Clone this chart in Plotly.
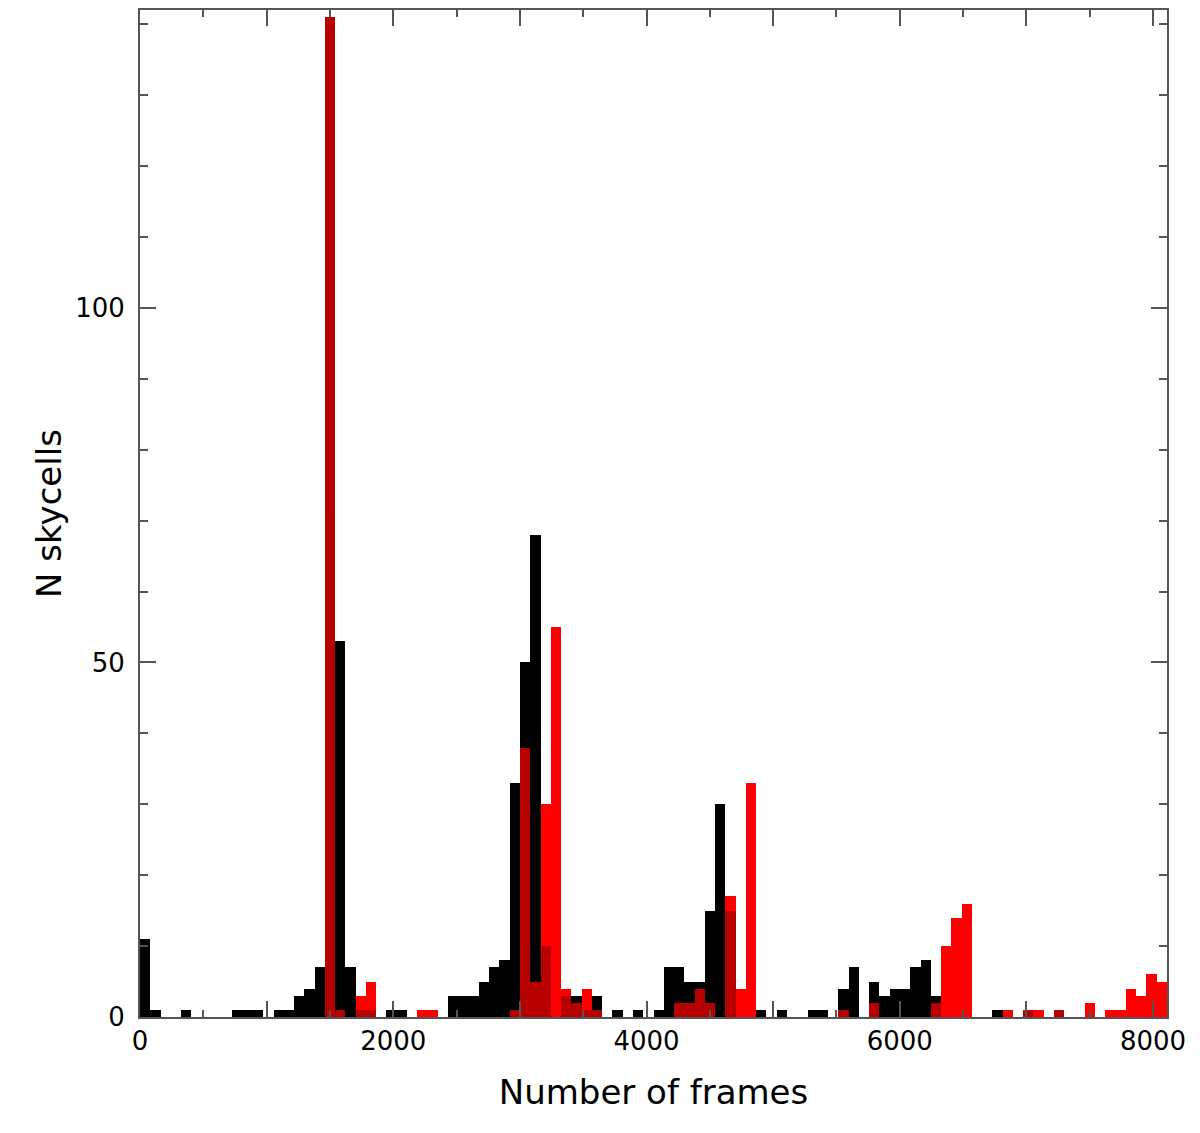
import plotly.graph_objects as go

# histogram counts per bin (100 bins of ~81.1 frames, starting at 0)
bin_width = 81.1
black_counts = [
    11, 1, 0, 0, 1, 0, 0, 0, 0, 1,
    1, 1, 0, 1, 1, 3, 4, 7, 141, 53,
    7, 1, 1, 0, 1, 1, 0, 0, 0, 0,
    3, 3, 3, 5, 7, 8, 33, 50, 68, 10,
    0, 3, 3, 1, 3, 0, 1, 0, 1, 0,
    1, 7, 7, 5, 5, 15, 30, 15, 0, 0,
    1, 0, 1, 0, 0, 1, 1, 0, 4, 7,
    0, 5, 3, 4, 4, 7, 8, 3, 0, 0,
    0, 0, 0, 1, 0, 0, 1, 0, 0, 1,
    0, 0, 0, 0, 0, 0, 0, 0, 0, 0,
]
red_counts = [
    0, 0, 0, 0, 0, 0, 0, 0, 0, 0,
    0, 0, 0, 0, 0, 0, 0, 0, 141, 1,
    0, 3, 5, 0, 0, 0, 0, 1, 1, 0,
    0, 0, 0, 0, 0, 0, 1, 38, 5, 30,
    55, 4, 2, 4, 1, 0, 0, 0, 0, 0,
    0, 0, 2, 2, 4, 2, 0, 17, 4, 33,
    0, 0, 0, 0, 0, 0, 0, 0, 1, 0,
    0, 2, 0, 0, 0, 0, 0, 2, 10, 14,
    16, 0, 0, 0, 1, 0, 1, 1, 0, 1,
    0, 0, 2, 0, 1, 1, 4, 3, 6, 5,
]
x_tick_values = list(range(0, 8001, 1000))
x_tick_labels = ['0', '', '2000', '', '4000', '', '6000', '', '8000']
y_tick_values = [0, 50, 100]

font_family = 'DejaVu Sans, sans-serif'
axis_color = '#555555'

bar_kw = dict(x0=bin_width / 2, dx=bin_width, width=bin_width, marker_line_width=0, hoverinfo='skip')

fig = go.Figure()
fig.add_trace(go.Bar(y=black_counts, marker_color='black', **bar_kw))
fig.add_trace(go.Bar(y=red_counts, marker_color='#ff0000', **bar_kw))
# faint black overlay so that overlapping parts show dark red
fig.add_trace(go.Bar(y=black_counts, marker_color='black', opacity=0.28, **bar_kw))

axis_common = dict(
    showgrid=False,
    zeroline=False,
    showline=True,
    linecolor=axis_color,
    linewidth=2,
    mirror='ticks',
    ticks='inside',
    tickcolor=axis_color,
    tickwidth=2,
    ticklen=16,
    tickfont=dict(family=font_family, size=26, color='black'),
)

# the page body adds an 8px offset, so the margins are trimmed to compensate
fig.update_layout(
    width=1184,
    height=1117,
    margin=dict(l=132, r=25, t=0, b=108),
    paper_bgcolor='white',
    plot_bgcolor='white',
    barmode='overlay',
    bargap=0,
    showlegend=False,
    xaxis=dict(
        range=[0, 8110],
        tickvals=x_tick_values,
        ticktext=x_tick_labels,
        minor=dict(dtick=500, tick0=0, ticks='inside', ticklen=7, tickcolor=axis_color, tickwidth=2),
        title=dict(text='Number of frames', font=dict(family=font_family, size=34, color='black'), standoff=25),
        **axis_common,
    ),
    yaxis=dict(
        range=[0, 142],
        tickvals=y_tick_values,
        ticklabelstandoff=8,
        minor=dict(dtick=10, tick0=0, ticks='inside', ticklen=8, tickcolor=axis_color, tickwidth=2),
        title=dict(text='N skycells', font=dict(family=font_family, size=34, color='black'), standoff=3),
        **axis_common,
    ),
)

fig.write_html('out.html')
